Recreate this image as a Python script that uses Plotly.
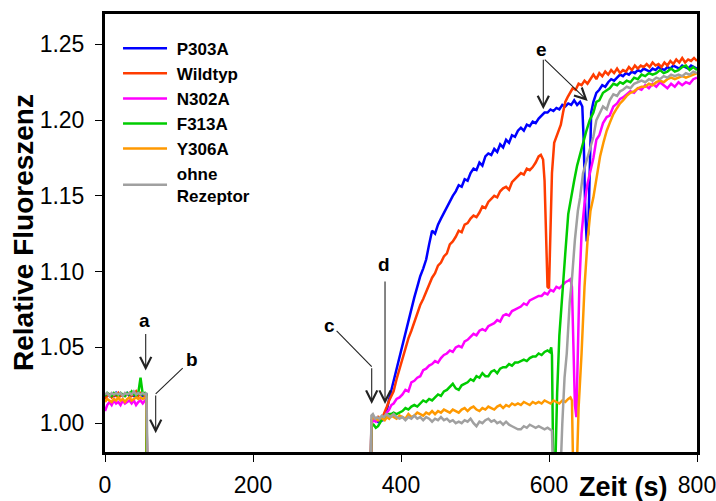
import plotly.graph_objects as go

# ---------------- data ----------------
series_names = ["P303A", "Wildtyp", "N302A", "F313A", "Y306A", "ohne<br>Rezeptor"]
series_colors = ["#0000FF", "#FF3C00", "#FF00FF", "#00CC00", "#FF9900", "#A0A0A0"]

# first phase (0 .. ~56 s), common time grid
t_base = [0, 3, 6, 9, 12, 15, 18, 21, 24, 27, 30, 33, 36, 39, 42, 45, 48, 51, 54, 56]
blue_base = [1.017, 1.019, 1.018, 1.019, 1.018, 1.020, 1.018, 1.019, 1.018, 1.019,
             1.020, 1.018, 1.019, 1.018, 1.019, 1.020, 1.019, 1.018, 1.019, 1.019]
red_base = [1.016, 1.018, 1.019, 1.017, 1.019, 1.018, 1.020, 1.018, 1.019, 1.018,
            1.019, 1.020, 1.018, 1.019, 1.021, 1.018, 1.020, 1.019, 1.018, 1.019]
mag_base = [1.008, 1.012, 1.014, 1.012, 1.015, 1.013, 1.014, 1.012, 1.015, 1.013,
            1.014, 1.015, 1.013, 1.015, 1.012, 1.014, 1.015, 1.013, 1.015, 1.016]
green_base = [1.018, 1.020, 1.019, 1.018, 1.020, 1.019, 1.018, 1.020, 1.019, 1.018,
              1.020, 1.019, 1.021, 1.019, 1.018, 1.020, 1.030, 1.019, 1.020, 1.019]
orange_base = [1.014, 1.016, 1.015, 1.014, 1.016, 1.015, 1.017, 1.015, 1.016, 1.014,
               1.016, 1.017, 1.015, 1.016, 1.017, 1.016, 1.017, 1.016, 1.017, 1.017]
gray_base = [1.019, 1.020, 1.018, 1.020, 1.019, 1.020, 1.019, 1.020, 1.018, 1.020,
             1.019, 1.020, 1.019, 1.021, 1.019, 1.020, 1.019, 1.020, 1.019, 1.020]
drop_t = [57, 57, 57, 56, 57, 58]
drop_y = 0.96

# second phase (from ~360 s)
blue_t = [359, 360, 363, 366, 369, 372, 375, 378, 381, 384, 387, 390, 394, 398, 402, 406, 410, 414, 418, 422,
          426, 430, 434, 438, 442, 446, 450, 454, 458, 462, 466, 470, 474, 478, 482, 486, 490, 494, 498, 502,
          506, 510, 514, 518, 522, 526, 530, 534, 538, 542, 546, 550, 554, 558, 562, 566, 570, 574, 578, 582,
          586, 590, 594, 598, 602, 606, 610, 614, 618, 622, 626, 630, 634, 638, 642, 645, 647, 649, 651, 653,
          655, 657, 660, 664, 668, 672, 676, 680, 684, 688, 692, 696, 700, 704, 708, 712, 716, 720, 724, 728,
          732, 736, 740, 744, 748, 752, 756, 760, 764, 768, 772, 776, 780, 784, 788, 792, 796, 800]
blue_y = [0.96, 1.002, 1.004, 1.003, 1.001, 1.003, 1.002, 1.005, 1.009, 1.016, 1.022, 1.029, 1.035, 1.043, 1.051, 1.061, 1.067, 1.077, 1.083, 1.090,
          1.097, 1.102, 1.108, 1.118, 1.127, 1.125, 1.131, 1.135, 1.139, 1.143, 1.146, 1.150, 1.153, 1.157, 1.156, 1.161, 1.160, 1.165, 1.168, 1.167,
          1.172, 1.170, 1.176, 1.178, 1.177, 1.181, 1.179, 1.184, 1.182, 1.187, 1.185, 1.190, 1.189, 1.193, 1.195, 1.193, 1.197, 1.196, 1.199, 1.198,
          1.201, 1.203, 1.205, 1.205, 1.207, 1.206, 1.208, 1.207, 1.210, 1.209, 1.211, 1.210, 1.213, 1.210, 1.212, 1.209, 1.185, 1.140, 1.120, 1.125,
          1.170, 1.205, 1.212, 1.218, 1.220, 1.223, 1.222, 1.225, 1.227, 1.226, 1.228, 1.230, 1.229, 1.231, 1.230, 1.232, 1.231, 1.233, 1.232, 1.234,
          1.233, 1.232, 1.234, 1.233, 1.235, 1.234, 1.233, 1.235, 1.234, 1.236, 1.235, 1.234, 1.236, 1.235, 1.234, 1.236, 1.235, 1.234]

red_t = [359, 360, 363, 366, 369, 372, 375, 378, 381, 384, 387, 390, 394, 398, 402, 406, 410, 414, 418, 422,
         426, 430, 434, 438, 442, 446, 450, 454, 458, 462, 466, 470, 474, 478, 482, 486, 490, 494, 498, 502,
         506, 510, 514, 518, 522, 526, 530, 534, 538, 542, 546, 550, 554, 558, 562, 566, 570, 574, 578, 582,
         586, 589, 592, 594, 596, 598, 600, 602, 604, 607, 610, 613, 616, 619, 622, 625, 628, 632, 636, 640,
         644, 648, 652, 656, 660, 664, 668, 672, 676, 680, 684, 688, 692, 696, 700, 704, 708, 712, 716, 720,
         724, 728, 732, 736, 740, 744, 748, 752, 756, 760, 764, 768, 772, 776, 780, 784, 788, 792, 796, 800]
red_y = [0.96, 1.001, 1.003, 1.002, 1.004, 1.002, 1.004, 1.007, 1.011, 1.015, 1.018, 1.021, 1.029, 1.036, 1.043, 1.050, 1.056, 1.061, 1.067, 1.072,
         1.078, 1.082, 1.087, 1.091, 1.096, 1.099, 1.104, 1.106, 1.110, 1.112, 1.118, 1.120, 1.123, 1.127, 1.126, 1.131, 1.132, 1.135, 1.137, 1.136,
         1.139, 1.143, 1.142, 1.146, 1.148, 1.150, 1.149, 1.153, 1.155, 1.156, 1.154, 1.159, 1.161, 1.163, 1.165, 1.164, 1.168, 1.167, 1.169, 1.172,
         1.176, 1.177, 1.174, 1.160, 1.120, 1.090, 1.089, 1.120, 1.165, 1.185, 1.189, 1.193, 1.197, 1.205, 1.212, 1.215, 1.218, 1.221, 1.220, 1.224,
         1.223, 1.226, 1.224, 1.227, 1.230, 1.227, 1.231, 1.229, 1.232, 1.230, 1.233, 1.231, 1.234, 1.231, 1.233, 1.232, 1.235, 1.233, 1.236, 1.234,
         1.236, 1.235, 1.237, 1.235, 1.238, 1.236, 1.237, 1.235, 1.238, 1.236, 1.239, 1.237, 1.240, 1.238, 1.241, 1.238, 1.240, 1.239, 1.241, 1.239]

mag_t = [359, 360, 363, 366, 369, 372, 375, 378, 381, 384, 387, 390, 394, 398, 402, 406, 410, 414, 418, 422,
         426, 430, 434, 438, 442, 446, 450, 454, 458, 462, 466, 470, 474, 478, 482, 486, 490, 494, 498, 502,
         506, 510, 514, 518, 522, 526, 530, 534, 538, 542, 546, 550, 554, 558, 562, 566, 570, 574, 578, 582,
         586, 590, 594, 598, 602, 606, 610, 614, 618, 622, 626, 629, 631, 633, 635, 637, 639, 641, 644, 648,
         652, 656, 660, 664, 668, 673, 678, 682, 687, 692, 696, 700, 705, 710, 715, 720, 725, 730, 735, 740,
         745, 750, 755, 760, 765, 770, 775, 780, 785, 790, 795, 800]
mag_y = [0.96, 1.000, 1.002, 1.001, 1.003, 1.002, 1.003, 1.004, 1.007, 1.009, 1.012, 1.013, 1.016, 1.017, 1.019, 1.022, 1.021, 1.027, 1.028, 1.030,
         1.031, 1.035, 1.036, 1.038, 1.039, 1.041, 1.040, 1.043, 1.045, 1.046, 1.048, 1.047, 1.050, 1.051, 1.050, 1.054, 1.055, 1.057, 1.059, 1.058,
         1.061, 1.062, 1.061, 1.064, 1.065, 1.066, 1.068, 1.067, 1.071, 1.072, 1.071, 1.074, 1.075, 1.076, 1.077, 1.079, 1.078, 1.081, 1.082, 1.083,
         1.084, 1.084, 1.086, 1.085, 1.088, 1.087, 1.090, 1.089, 1.091, 1.093, 1.094, 1.095, 1.090, 1.050, 1.012, 1.004, 1.040, 1.090, 1.125, 1.145,
         1.158, 1.167, 1.175, 1.187, 1.190, 1.198, 1.202, 1.203, 1.209, 1.211, 1.214, 1.215, 1.217, 1.219, 1.218, 1.221, 1.220, 1.223, 1.221, 1.224,
         1.222, 1.225, 1.223, 1.221, 1.224, 1.222, 1.225, 1.223, 1.225, 1.224, 1.227, 1.228]

green_t = [359, 360, 363, 366, 369, 372, 375, 378, 381, 384, 387, 390, 394, 398, 402, 406, 410, 414, 418, 422,
           426, 430, 434, 438, 442, 446, 450, 454, 458, 462, 466, 470, 474, 478, 482, 486, 490, 494, 498, 502,
           506, 510, 514, 518, 522, 526, 530, 534, 538, 542, 546, 550, 554, 558, 562, 566, 570, 574, 578, 582,
           586, 590, 594, 598, 601, 603, 604, 606, 608, 611, 614, 618, 622, 626, 630, 634, 638, 642, 646, 650,
           655, 660, 664, 668, 673, 678, 682, 687, 692, 696, 700, 705, 710, 715, 720, 725, 730, 735, 740, 745,
           750, 755, 760, 765, 770, 775, 780, 785, 790, 795, 800]
green_y = [0.96, 0.998, 0.999, 0.997, 0.998, 1.001, 1.003, 1.004, 1.005, 1.006, 1.006, 1.007, 1.006, 1.007, 1.008, 1.010, 1.009, 1.011, 1.012, 1.011,
           1.013, 1.015, 1.014, 1.016, 1.015, 1.017, 1.019, 1.018, 1.021, 1.022, 1.024, 1.026, 1.023, 1.022, 1.025, 1.026, 1.027, 1.029, 1.028, 1.031,
           1.030, 1.033, 1.031, 1.031, 1.034, 1.035, 1.033, 1.036, 1.037, 1.037, 1.039, 1.038, 1.040, 1.040, 1.041, 1.042, 1.041, 1.043, 1.044, 1.044,
           1.046, 1.045, 1.047, 1.048, 1.047, 1.050, 1.045, 0.96, 0.96, 1.020, 1.058, 1.088, 1.112, 1.138, 1.150, 1.160, 1.170, 1.178, 1.186, 1.192,
           1.200, 1.205, 1.212, 1.213, 1.218, 1.220, 1.221, 1.224, 1.223, 1.225, 1.224, 1.226, 1.225, 1.228, 1.227, 1.230, 1.229, 1.231, 1.230, 1.231,
           1.233, 1.231, 1.232, 1.234, 1.232, 1.233, 1.235, 1.236, 1.233, 1.235, 1.233]

orange_t = [359, 360, 363, 366, 369, 372, 375, 378, 381, 384, 387, 390, 394, 398, 402, 406, 410, 414, 418, 422,
            426, 430, 434, 438, 442, 446, 450, 454, 458, 462, 466, 470, 474, 478, 482, 486, 490, 494, 498, 502,
            506, 510, 514, 518, 522, 526, 530, 534, 538, 542, 546, 550, 554, 558, 562, 566, 570, 574, 578, 582,
            586, 590, 594, 598, 602, 606, 610, 614, 618, 622, 626, 629, 631, 633, 637, 640, 644, 648, 652, 656,
            660, 664, 669, 674, 678, 682, 687, 692, 696, 700, 705, 710, 715, 720, 725, 730, 735, 740, 745, 750,
            755, 760, 765, 770, 775, 780, 785, 790, 795, 800]
orange_y = [0.96, 1.002, 1.004, 1.003, 1.002, 1.004, 1.003, 1.002, 1.004, 1.003, 1.005, 1.004, 1.003, 1.005, 1.004, 1.003, 1.006, 1.004, 1.005, 1.007,
            1.006, 1.005, 1.007, 1.006, 1.008, 1.006, 1.008, 1.007, 1.009, 1.008, 1.007, 1.009, 1.008, 1.007, 1.009, 1.010, 1.008, 1.010, 1.011, 1.009,
            1.008, 1.010, 1.009, 1.011, 1.010, 1.009, 1.011, 1.012, 1.010, 1.012, 1.011, 1.013, 1.012, 1.013, 1.012, 1.014, 1.013, 1.012, 1.014, 1.013,
            1.014, 1.013, 1.015, 1.014, 1.013, 1.015, 1.014, 1.013, 1.015, 1.014, 1.016, 1.017, 1.015, 0.96, 0.96, 1.010, 1.046, 1.090, 1.120, 1.140,
            1.149, 1.160, 1.176, 1.186, 1.193, 1.198, 1.204, 1.208, 1.211, 1.213, 1.216, 1.218, 1.219, 1.221, 1.222, 1.222, 1.224, 1.223, 1.225, 1.226,
            1.225, 1.227, 1.228, 1.227, 1.228, 1.229, 1.228, 1.229, 1.230, 1.231]

gray_t = [359, 360, 362, 365, 368, 371, 374, 377, 380, 383, 386, 390, 394, 398, 402, 406, 410, 414, 418, 422,
          426, 430, 434, 438, 442, 446, 450, 454, 458, 462, 466, 470, 474, 478, 482, 486, 490, 494, 498, 502,
          506, 510, 514, 518, 522, 526, 530, 534, 538, 542, 546, 550, 554, 558, 562, 566, 570, 574, 578, 582,
          586, 590, 594, 598, 602, 604, 606, 615, 618, 621, 624, 628, 631, 635, 639, 642, 646, 650, 655, 660,
          664, 669, 673, 678, 682, 687, 692, 696, 700, 705, 710, 715, 720, 725, 730, 735, 740, 745, 750, 755,
          760, 765, 770, 775, 780, 785, 790, 795, 800]
gray_y = [0.96, 1.005, 1.006, 1.003, 1.004, 1.003, 1.005, 1.004, 1.006, 1.005, 1.004, 1.006, 1.004, 1.003, 1.004, 1.002, 1.004, 1.003, 1.005, 1.003,
          1.004, 1.002, 1.004, 1.003, 1.001, 1.003, 1.002, 1.004, 1.002, 1.003, 1.001, 1.002, 1.000, 1.001, 1.000, 1.002, 1.001, 1.003, 1.000, 0.998,
          1.001, 1.000, 1.002, 1.003, 1.001, 1.002, 1.000, 1.001, 0.999, 1.001, 0.999, 0.998, 0.997, 0.996, 0.996, 0.998, 0.997, 0.999, 0.998, 0.997,
          0.998, 0.997, 0.996, 0.997, 0.996, 0.995, 0.96, 0.96, 1.000, 1.030, 1.046, 1.080, 1.095, 1.121, 1.140, 1.149, 1.165, 1.172, 1.180, 1.189,
          1.200, 1.205, 1.209, 1.207, 1.213, 1.217, 1.216, 1.219, 1.220, 1.222, 1.221, 1.224, 1.225, 1.226, 1.225, 1.227, 1.226, 1.228, 1.227, 1.229,
          1.228, 1.230, 1.229, 1.230, 1.229, 1.231, 1.230, 1.232, 1.231]

x_ticks = [0, 200, 400, 600, 800]
y_ticks = [1.00, 1.05, 1.10, 1.15, 1.20, 1.25]
y_tick_text = ["1.00", "1.05", "1.10", "1.15", "1.20", "1.25"]

# annotation letters: (text, x, y)
letters = [("a", 54, 1.0675), ("b", 117, 1.0418), ("c", 304, 1.0647), ("d", 377.5, 1.1044), ("e", 590, 1.2467)]
# arrows: (tail x, tail y, head x, head y)
arrows = [(55, 1.0598, 55, 1.0348), (68.5, 1.0193, 68.5, 0.9934), (360.4, 1.0373, 360.4, 1.0127),
          (378.4, 1.0945, 378.4, 1.0127), (592.3, 1.2408, 592.3, 1.2071), (592.3, 1.2408, 652.3, 1.2126)]
# plain connector lines (x0, y0, x1, y1)
connectors = [(105, 1.0363, 68.5, 1.0193), (313, 1.0609, 360.4, 1.0373)]

# ---------------- figure ----------------
bases = [blue_base, red_base, mag_base, green_base, orange_base, gray_base]
mains = [(blue_t, blue_y), (red_t, red_y), (mag_t, mag_y), (green_t, green_y), (orange_t, orange_y), (gray_t, gray_y)]


def legend_label(name):
    return "<br>".join("&nbsp;<b>%s</b>" % part for part in name.split("<br>"))


fig = go.Figure()
for i, name in enumerate(series_names):
    mt, my = mains[i]
    assert len(mt) == len(my), (name, len(mt), len(my))
    xs = list(t_base) + [drop_t[i], None] + list(mt)
    ys = list(bases[i]) + [drop_y, None] + list(my)
    fig.add_trace(go.Scatter(x=xs, y=ys, mode="lines", name=legend_label(name),
                             line=dict(color=series_colors[i], width=2.5),
                             connectgaps=False))

font_main = "Arial, 'Liberation Sans', sans-serif"
annotations = []
for txt, x, y in letters:
    annotations.append(dict(x=x, y=y, xref="x", yref="y", text="<b>%s</b>" % txt, showarrow=False,
                            font=dict(size=19, color="black", family=font_main)))
for tx, ty, hx, hy in arrows:
    annotations.append(dict(x=hx, y=hy, ax=tx, ay=ty, xref="x", yref="y", axref="x", ayref="y",
                            text="", showarrow=True, arrowhead=5, arrowsize=2, arrowwidth=1.1,
                            arrowcolor="#222222"))
annotations.append(dict(x=-0.1385, y=0.5, xref="paper", yref="paper", text="<b>Relative Fluoreszenz</b>",
                        textangle=-90, showarrow=False, xanchor="center", yanchor="middle",
                        font=dict(size=28, color="black", family=font_main)))
annotations.append(dict(x=701, y=-0.08, xref="x", yref="paper", text="<b>Zeit (s)</b>",
                        showarrow=False, xanchor="center", yanchor="middle",
                        font=dict(size=27, color="black", family=font_main)))

shapes = [dict(type="line", xref="x", yref="y", x0=a, y0=b, x1=c, y1=d,
               line=dict(color="#222222", width=1.1)) for a, b, c, d in connectors]

fig.update_layout(
    width=716, height=501,
    margin=dict(l=105, r=19, t=14, b=49, autoexpand=False),
    paper_bgcolor="white", plot_bgcolor="white",
    showlegend=True,
    legend=dict(x=0.022, y=0.962, xanchor="left", yanchor="top", bgcolor="rgba(0,0,0,0)",
                font=dict(size=17, color="black", family=font_main), itemwidth=44,
                traceorder="normal"),
    annotations=annotations,
    shapes=shapes,
    font=dict(family=font_main, color="black"),
)
fig.update_xaxes(range=[0, 800], tickvals=x_ticks, ticks="outside", ticklen=7, tickwidth=1,
                 tickcolor="black", showline=True, linewidth=3, linecolor="black", mirror=True,
                 showgrid=False, zeroline=False, tickfont=dict(size=23, family=font_main),
                 ticklabelstandoff=3, ticklabeloverflow="allow", automargin=False)
fig.update_yaxes(range=[0.981, 1.27], tickvals=y_ticks, ticktext=y_tick_text, ticks="outside",
                 ticklen=7, tickwidth=1, tickcolor="black", showline=True, linewidth=3,
                 linecolor="black", mirror=True, showgrid=False, zeroline=False,
                 tickfont=dict(size=23, family=font_main), ticklabelstandoff=6, automargin=False)

fig.write_html("out.html")
